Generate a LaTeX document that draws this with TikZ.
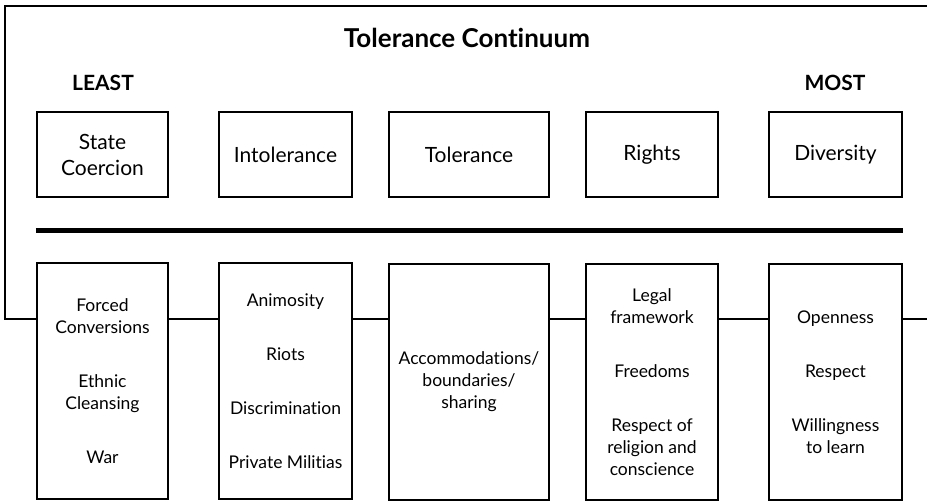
\documentclass[tikz,border=0pt]{standalone}
\usepackage{fontspec}
\setmainfont[Ligatures=NoCommon]{Lato}
\usetikzlibrary{positioning}

\begin{document}
\begin{tikzpicture}[x=1pt,y=-1pt]
		\tikzset{level/.style = {shape=rectangle,draw,line width=2.4pt,inner sep=0pt,align=center,minimum height=85pt,font=\fontsize{21}{26}\selectfont}}
		\tikzset{level2/.style = {shape=rectangle,draw,line width=2.4pt,inner sep=0pt,align=center,minimum height=236pt,font=\fontsize{17.5}{22}\selectfont}}
		\tikzset{edge/.style = {line width=2.2pt}}
		\useasboundingbox (0,0) rectangle (927,502);
		
		% titles
		\node[font=\fontsize{26}{30}\selectfont\bfseries] (title) at (467,38) {Tolerance Continuum};
		\node[font=\fontsize{21}{24}\selectfont\bfseries] (least) at (103,83) {LEAST};
		\node[font=\fontsize{21}{24}\selectfont\bfseries] (most) at (835,83) {MOST};
		
		% vertices
		\node[level, minimum width=131pt] (a) at (102.5,154.5) {State\\Coercion};
		\node[level, minimum width=133pt] (b) at (285.5,154.5) {Intolerance};
		\node[level, minimum width=160pt] (c) at (469,154.5) {Tolerance};
		\node[level, minimum width=132pt] (d) at (652,154.5) {Rights};
		\node[level, minimum width=133pt] (e) at (835.5,154.5) {Diversity};
		
		\node[level2, minimum width=131pt] (a2) at (102.5,381) {Forced\\Conversions\\[32pt]Ethnic\\Cleansing\\[32pt]War};
		\node[level2, minimum width=133pt] (b2) at (285.5,381) {Animosity\\[32pt]Riots\\[32pt]Discrimination\\[32pt]Private Militias};
		\node[level2, minimum width=160pt] (c2) at (469,382) {Accommodations/\\boundaries/\\sharing};
		\node[level2, minimum width=132pt] (d2) at (652,382) {Legal\\framework\\[32pt]Freedoms\\[32pt]Respect of\\religion and\\conscience};
		\node[level2, minimum width=133pt] (e2) at (835.5,382) {Openness\\[32pt]Respect\\[32pt]Willingness\\to learn};
		
		\coordinate (lt) at (5,6);
		\coordinate (rt) at (927,6);
		\coordinate (lb) at (5,319);
		\coordinate (rb) at (927,319);
		\coordinate (m) at (0,231);
		
		%edges
		\draw[line width=5pt] (a2.west |- m) -- (e2.east |- m);
		
		\draw[edge] (rt) -- (lt) -- (lb) -- (lb -| a2.west);
		\draw[edge] (lb -| a2.east) -- (lb -| b2.west);
		\draw[edge] (lb -| b2.east) -- (lb -| c2.west);
		\draw[edge] (lb -| c2.east) -- (lb -| d2.west);
		\draw[edge] (lb -| d2.east) -- (lb -| e2.west);
		\draw[edge] (lb -| e2.east) -- (rb);
		
		\end{tikzpicture}
\end{document}
